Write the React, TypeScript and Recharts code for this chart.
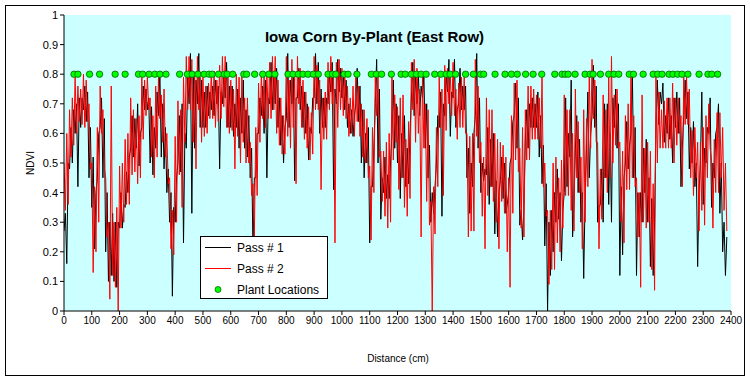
import React from 'react'
import { ComposedChart, Line, Scatter, XAxis, YAxis, CartesianGrid, Legend } from 'recharts'

// readings every 5 cm, starting at 0 cm
const STEP_CM = 5

const pass1 = [
  0.27, 0.33, 0.16, 0.5, 0.48, 0.62, 0.5, 0.68, 0.6, 0.7, 0.42, 0.72, 0.62, 0.72, 0.68, 0.76, 0.64, 0.74, 0.45, 0.62,
  0.35, 0.52, 0.21, 0.4, 0.45, 0.6, 0.62, 0.72, 0.45, 0.65, 0.2, 0.4, 0.1, 0.3, 0.12, 0.33, 0.1, 0.3, 0.08, 0.3,
  0.28, 0.4, 0.28, 0.36, 0.35, 0.47, 0.4, 0.52, 0.55, 0.66, 0.52, 0.65, 0.55, 0.7, 0.49, 0.6, 0.62, 0.76, 0.68, 0.75,
  0.68, 0.72, 0.5, 0.69, 0.46, 0.62, 0.55, 0.74, 0.66, 0.81, 0.52, 0.7, 0.48, 0.62, 0.4, 0.48, 0.3, 0.4, 0.05, 0.35,
  0.3, 0.45, 0.5, 0.66, 0.47, 0.7, 0.23, 0.6, 0.55, 0.79, 0.7, 0.87, 0.33, 0.8, 0.55, 0.78, 0.7, 0.87, 0.62, 0.78,
  0.62, 0.74, 0.62, 0.76, 0.66, 0.74, 0.68, 0.76, 0.66, 0.78, 0.7, 0.76, 0.48, 0.74, 0.7, 0.8, 0.72, 0.84, 0.62, 0.76,
  0.62, 0.76, 0.59, 0.7, 0.62, 0.75, 0.55, 0.72, 0.6, 0.78, 0.55, 0.68, 0.52, 0.66, 0.45, 0.55, 0.2, 0.45, 0.45, 0.6,
  0.6, 0.72, 0.66, 0.76, 0.6, 0.78, 0.45, 0.72, 0.7, 0.84, 0.68, 0.8, 0.7, 0.82, 0.62, 0.72, 0.56, 0.66, 0.5, 0.62,
  0.65, 0.87, 0.62, 0.78, 0.7, 0.8, 0.44, 0.72, 0.72, 0.82, 0.68, 0.76, 0.62, 0.74, 0.6, 0.7, 0.51, 0.62, 0.6, 0.72,
  0.72, 0.87, 0.7, 0.84, 0.6, 0.75, 0.62, 0.72, 0.62, 0.72, 0.7, 0.8, 0.74, 0.84, 0.41, 0.75, 0.7, 0.85, 0.74, 0.82,
  0.72, 0.8, 0.68, 0.78, 0.62, 0.7, 0.6, 0.68, 0.59, 0.66, 0.7, 0.82, 0.64, 0.76, 0.5, 0.68, 0.45, 0.6, 0.5, 0.62,
  0.23, 0.42, 0.42, 0.55, 0.7, 0.85, 0.5, 0.75, 0.31, 0.45, 0.4, 0.52, 0.38, 0.46, 0.38, 0.5, 0.6, 0.78, 0.55, 0.7,
  0.5, 0.66, 0.38, 0.6, 0.45, 0.66, 0.42, 0.55, 0.43, 0.6, 0.72, 0.84, 0.66, 0.8, 0.7, 0.8, 0.66, 0.76, 0.72, 0.8,
  0.55, 0.7, 0.45, 0.56, 0.3, 0.4, 0.33, 0.42, 0.5, 0.66, 0.62, 0.74, 0.32, 0.7, 0.66, 0.8, 0.74, 0.85, 0.59, 0.74,
  0.72, 0.85, 0.62, 0.68, 0.7, 0.82, 0.68, 0.76, 0.68, 0.76, 0.45, 0.55, 0.33, 0.5, 0.42, 0.6, 0.66, 0.87, 0.55, 0.72,
  0.4, 0.5, 0.44, 0.48, 0.46, 0.62, 0.36, 0.58, 0.42, 0.6, 0.26, 0.44, 0.25, 0.4, 0.44, 0.52, 0.38, 0.5, 0.33, 0.36,
  0.4, 0.5, 0.52, 0.64, 0.66, 0.77, 0.55, 0.72, 0.29, 0.34, 0.24, 0.36, 0.58, 0.68, 0.55, 0.7, 0.62, 0.72, 0.62, 0.7,
  0.62, 0.74, 0.52, 0.66, 0.43, 0.56, 0.22, 0.43, 0.0, 0.3, 0.12, 0.34, 0.2, 0.4, 0.3, 0.48, 0.31, 0.4, 0.17, 0.34,
  0.4, 0.72, 0.42, 0.6, 0.52, 0.78, 0.25, 0.36, 0.55, 0.66, 0.4, 0.58, 0.3, 0.4, 0.11, 0.38, 0.55, 0.74, 0.45, 0.6,
  0.66, 0.83, 0.62, 0.76, 0.3, 0.35, 0.36, 0.48, 0.3, 0.7, 0.45, 0.7, 0.36, 0.6, 0.3, 0.72, 0.62, 0.75, 0.55, 0.7,
  0.12, 0.42, 0.19, 0.45, 0.5, 0.64, 0.48, 0.56, 0.6, 0.81, 0.45, 0.62, 0.12, 0.4, 0.25, 0.4, 0.3, 0.55, 0.4, 0.58,
  0.3, 0.45, 0.15, 0.38, 0.12, 0.3, 0.62, 0.78, 0.63, 0.74, 0.7, 0.77, 0.57, 0.66, 0.6, 0.72, 0.58, 0.66, 0.5, 0.72,
  0.62, 0.74, 0.6, 0.72, 0.42, 0.55, 0.66, 0.78, 0.65, 0.74, 0.48, 0.62, 0.5, 0.64, 0.42, 0.5, 0.15, 0.4, 0.5, 0.74,
  0.36, 0.55, 0.5, 0.62, 0.6, 0.72, 0.35, 0.5, 0.45, 0.6, 0.62, 0.7, 0.33, 0.5, 0.2, 0.3, 0.12, 0.25,
]

const pass2 = [
  0.5, 0.34, 0.6, 0.36, 0.68, 0.52, 0.72, 0.56, 0.79, 0.6, 0.76, 0.64, 0.75, 0.63, 0.8, 0.62, 0.78, 0.64, 0.7, 0.48,
  0.5, 0.13, 0.42, 0.2, 0.62, 0.3, 0.76, 0.6, 0.68, 0.48, 0.45, 0.25, 0.3, 0.04, 0.76, 0.12, 0.3, 0.08, 0.35, 0.0,
  0.49, 0.28, 0.5, 0.3, 0.58, 0.36, 0.6, 0.36, 0.72, 0.46, 0.68, 0.47, 0.65, 0.43, 0.66, 0.45, 0.79, 0.58, 0.78, 0.66,
  0.79, 0.68, 0.72, 0.52, 0.66, 0.45, 0.76, 0.52, 0.79, 0.65, 0.73, 0.57, 0.75, 0.52, 0.6, 0.43, 0.45, 0.21, 0.34, 0.19,
  0.59, 0.3, 0.71, 0.46, 0.68, 0.35, 0.79, 0.57, 0.86, 0.68, 0.86, 0.68, 0.85, 0.57, 0.8, 0.48, 0.86, 0.68, 0.79, 0.57,
  0.79, 0.59, 0.76, 0.6, 0.77, 0.65, 0.81, 0.65, 0.81, 0.62, 0.78, 0.64, 0.83, 0.65, 0.86, 0.69, 0.86, 0.62, 0.79, 0.6,
  0.78, 0.61, 0.75, 0.48, 0.8, 0.59, 0.79, 0.5, 0.8, 0.57, 0.72, 0.5, 0.72, 0.5, 0.57, 0.39, 0.43, 0.25, 0.62, 0.39,
  0.77, 0.57, 0.81, 0.65, 0.8, 0.62, 0.8, 0.65, 0.84, 0.65, 0.86, 0.68, 0.86, 0.6, 0.78, 0.56, 0.72, 0.53, 0.66, 0.53,
  0.86, 0.59, 0.78, 0.55, 0.85, 0.62, 0.79, 0.43, 0.86, 0.7, 0.82, 0.62, 0.78, 0.58, 0.74, 0.55, 0.69, 0.51, 0.67, 0.53,
  0.86, 0.68, 0.83, 0.68, 0.78, 0.41, 0.72, 0.58, 0.74, 0.58, 0.84, 0.68, 0.86, 0.7, 0.79, 0.23, 0.84, 0.62, 0.85, 0.68,
  0.82, 0.66, 0.81, 0.65, 0.76, 0.59, 0.72, 0.6, 0.76, 0.59, 0.79, 0.64, 0.76, 0.59, 0.7, 0.52, 0.68, 0.5, 0.65, 0.45,
  0.49, 0.24, 0.62, 0.4, 0.79, 0.66, 0.8, 0.52, 0.54, 0.37, 0.54, 0.32, 0.57, 0.28, 0.6, 0.3, 0.8, 0.51, 0.73, 0.57,
  0.69, 0.41, 0.72, 0.45, 0.73, 0.35, 0.58, 0.32, 0.64, 0.38, 0.84, 0.68, 0.85, 0.57, 0.82, 0.6, 0.75, 0.25, 0.8, 0.55,
  0.7, 0.37, 0.68, 0.29, 0.37, 0.0, 0.42, 0.26, 0.62, 0.42, 0.79, 0.62, 0.75, 0.39, 0.83, 0.61, 0.82, 0.7, 0.8, 0.66,
  0.84, 0.66, 0.75, 0.58, 0.77, 0.62, 0.79, 0.62, 0.79, 0.6, 0.6, 0.25, 0.59, 0.27, 0.6, 0.27, 0.85, 0.59, 0.76, 0.5,
  0.57, 0.32, 0.52, 0.21, 0.72, 0.39, 0.68, 0.42, 0.68, 0.37, 0.6, 0.3, 0.58, 0.21, 0.57, 0.37, 0.56, 0.33, 0.52, 0.2,
  0.45, 0.08, 0.66, 0.33, 0.77, 0.51, 0.78, 0.47, 0.55, 0.28, 0.62, 0.25, 0.68, 0.51, 0.76, 0.51, 0.76, 0.58, 0.75, 0.58,
  0.73, 0.58, 0.72, 0.55, 0.79, 0.42, 0.5, 0.32, 0.34, 0.09, 0.34, 0.14, 0.5, 0.14, 0.52, 0.23, 0.45, 0.2, 0.51, 0.28,
  0.73, 0.39, 0.68, 0.39, 0.68, 0.34, 0.6, 0.27, 0.75, 0.45, 0.64, 0.4, 0.52, 0.21, 0.68, 0.3, 0.65, 0.42, 0.8, 0.55,
  0.85, 0.65, 0.78, 0.57, 0.57, 0.21, 0.48, 0.31, 0.73, 0.45, 0.68, 0.4, 0.79, 0.45, 0.86, 0.5, 0.73, 0.56, 0.75, 0.55,
  0.57, 0.3, 0.54, 0.23, 0.66, 0.41, 0.7, 0.41, 0.79, 0.45, 0.66, 0.42, 0.45, 0.25, 0.4, 0.08, 0.73, 0.3, 0.55, 0.28,
  0.57, 0.3, 0.54, 0.14, 0.43, 0.07, 0.79, 0.5, 0.74, 0.55, 0.68, 0.55, 0.71, 0.55, 0.72, 0.55, 0.72, 0.55, 0.77, 0.5,
  0.72, 0.56, 0.72, 0.6, 0.66, 0.42, 0.79, 0.63, 0.79, 0.63, 0.75, 0.45, 0.61, 0.39, 0.62, 0.45, 0.57, 0.27, 0.57, 0.34,
  0.62, 0.29, 0.66, 0.45, 0.7, 0.55, 0.51, 0.28, 0.58, 0.4, 0.67, 0.4, 0.67, 0.45, 0.62, 0.34, 0.5, 0.27,
]

// plant positions along the row (cm), all drawn at NDVI 0.8
const plantLocations = [
  36, 50, 92, 128, 184, 220, 268, 283, 306, 327, 345, 367, 416, 444, 461, 482,
  504, 522, 533, 556, 577, 587, 607, 647, 657, 686, 715, 737, 759, 806, 824, 843,
  860, 878, 897, 915, 950, 966, 978, 1008, 1022, 1054, 1106, 1124, 1143, 1178,
  1213, 1228, 1250, 1268, 1285, 1303, 1334, 1356, 1375, 1389, 1409, 1445, 1473,
  1499, 1510, 1551, 1587, 1610, 1631, 1661, 1688, 1719, 1766, 1792, 1803, 1814,
  1839, 1875, 1893, 1904, 1930, 1960, 1979, 1996, 2034, 2049, 2084, 2120, 2136,
  2152, 2177, 2191, 2208, 2224, 2245, 2285, 2317, 2331, 2352,
]
const plantLevel = 0.8

const xTicks = [
  0, 100, 200, 300, 400, 500, 600, 700, 800, 900, 1000, 1100, 1200, 1300, 1400,
  1500, 1600, 1700, 1800, 1900, 2000, 2100, 2200, 2300, 2400,
]
const yTicks = [0, 0.1, 0.2, 0.3, 0.4, 0.5, 0.6, 0.7, 0.8, 0.9, 1]

const rows = pass1.map((v, i) => ({ distance: i * STEP_CM, pass1: v, pass2: pass2[i] }))
const plants = plantLocations.map((d) => ({ distance: d, plant: plantLevel }))

const FONT = '"Liberation Sans", Arial, sans-serif'

function PlantMarker(props: any) {
  const { cx, cy } = props
  if (cx == null || cy == null) return null
  return <circle cx={cx} cy={cy} r={3.2} fill="#00ff00" stroke="#006600" strokeWidth={0.8} />
}

function LegendBox() {
  const row = { display: 'flex', alignItems: 'center', height: 21 }
  const text = { marginLeft: 5, fontSize: 12, color: '#000' }
  return (
    <div style={{ width: 128, height: 63, boxSizing: 'border-box', border: '1px solid #000', background: '#fff', fontFamily: FONT }}>
      <div style={row}>
        <svg width={31} height={21}><line x1={4} x2={30} y1={10.5} y2={10.5} stroke="#000" /></svg>
        <span style={text}>Pass # 1</span>
      </div>
      <div style={row}>
        <svg width={31} height={21}><line x1={4} x2={30} y1={10.5} y2={10.5} stroke="#ff0000" /></svg>
        <span style={text}>Pass # 2</span>
      </div>
      <div style={row}>
        <svg width={31} height={21}><circle cx={17} cy={10.5} r={3} fill="#00ff00" stroke="#006600" strokeWidth={0.8} /></svg>
        <span style={text}>Plant Locations</span>
      </div>
    </div>
  )
}

export default function App() {
  return (
    <div style={{ position: 'absolute', left: 0, top: 0, width: 750, height: 380, background: '#fff', fontFamily: FONT }}>
      <div style={{ position: 'absolute', left: 5, top: 5, width: 740, height: 371, boxSizing: 'border-box', border: '1px solid #000' }} />
      <div style={{ position: 'absolute', left: 0, top: 0 }}>
        <ComposedChart width={750} height={380} margin={{ top: 15, right: 19, bottom: 39, left: 4 }}>
          <CartesianGrid fill="#ccffff" horizontal={false} vertical={false} stroke="none" />
          <XAxis
            type="number"
            dataKey="distance"
            domain={[0, 2400]}
            ticks={xTicks}
            interval={0}
            tickSize={4}
            height={30}
            tick={{ fontSize: 10, fill: '#000', fontFamily: FONT }}
            axisLine={{ stroke: '#000' }}
            tickLine={{ stroke: '#000' }}
            allowDataOverflow
          />
          <XAxis xAxisId="top" orientation="top" height={0} tick={false} tickLine={false} axisLine={{ stroke: '#808080' }} />
          <YAxis
            type="number"
            domain={[0, 1]}
            ticks={yTicks}
            interval={0}
            tickSize={4}
            width={60}
            tick={{ fontSize: 11, fill: '#000', fontFamily: FONT }}
            axisLine={{ stroke: '#000' }}
            tickLine={{ stroke: '#000' }}
          />
          <YAxis yAxisId="right" orientation="right" width={0} tick={false} tickLine={false} axisLine={{ stroke: '#808080' }} />
          <Line data={rows} dataKey="pass1" type="linear" stroke="#000000" strokeWidth={1} dot={false} isAnimationActive={false} />
          <Line data={rows} dataKey="pass2" type="linear" stroke="#ff0000" strokeWidth={1} dot={false} isAnimationActive={false} />
          <Scatter data={plants} dataKey="plant" shape={PlantMarker} isAnimationActive={false} />
          <Legend
            layout="vertical"
            align="center"
            verticalAlign="middle"
            content={LegendBox}
            wrapperStyle={{ left: 200, top: 236, width: 128, height: 63 }}
          />
        </ComposedChart>
      </div>
      <div style={{ position: 'absolute', left: 5, top: 28, width: 739, textAlign: 'center', fontSize: 15, fontWeight: 'bold' }}>
        Iowa Corn By-Plant (East Row)
      </div>
      <div style={{ position: 'absolute', left: 30, top: 163, fontSize: 10, transform: 'translate(-50%, -50%) rotate(-90deg)' }}>
        NDVI
      </div>
      <div style={{ position: 'absolute', left: 398, top: 358, fontSize: 10, transform: 'translate(-50%, -50%)', whiteSpace: 'nowrap' }}>
        Distance (cm)
      </div>
    </div>
  )
}
